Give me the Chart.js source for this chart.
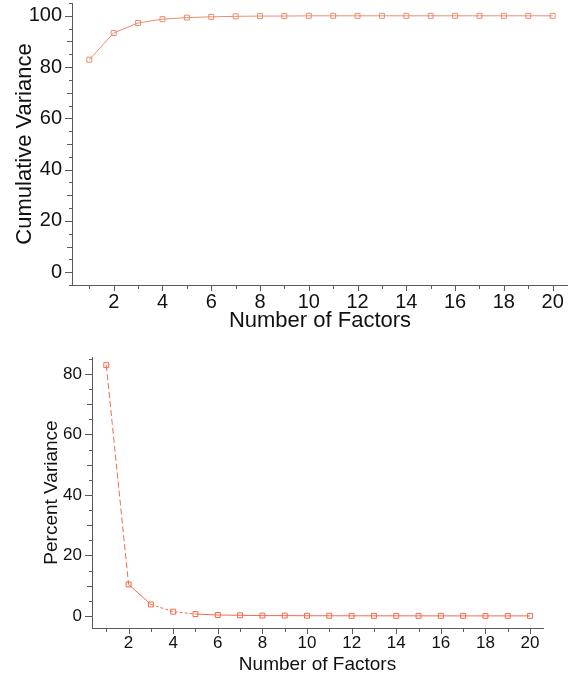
<!DOCTYPE html>
<html>
<head>
<meta charset="utf-8">
<script src="https://cdn.jsdelivr.net/npm/chart.js@4/dist/chart.umd.min.js"></script>
<style>
  body { margin: 0; background: #fff; }
  .box { position: absolute; left: 0; width: 568px; }
  #top { top: 0; height: 335px; }
  #bottom { top: 340px; height: 337px; }
</style>
</head>
<body>
<div class="box" id="top"><canvas id="cumChart"></canvas></div>
<div class="box" id="bottom"><canvas id="pctChart"></canvas></div>
<script>
const factors = [1, 2, 3, 4, 5, 6, 7, 8, 9, 10, 11, 12, 13, 14, 15, 16, 17, 18, 19, 20];
const cumulativeVariance = [82.9, 93.3, 97.2, 98.7, 99.3, 99.6, 99.8, 99.9, 99.9, 100, 100, 100, 100, 100, 100, 100, 100, 100, 100, 100];
const percentVariance = [82.9, 10.4, 3.8, 1.4, 0.6, 0.3, 0.2, 0.1, 0.1, 0.05, 0.05, 0.03, 0.02, 0.02, 0.01, 0.01, 0, 0, 0, 0];
const xTickLabels = [2, 4, 6, 8, 10, 12, 14, 16, 18, 20];
const cumTickLabels = [0, 20, 40, 60, 80, 100];
const pctTickLabels = [0, 20, 40, 60, 80];

const FONT = 'Liberation Sans, Arial, sans-serif';
const AXIS = '#5a5a5a';

// minor/major tick marks drawn outside the axes
const tickMarks = {
  id: 'tickMarks',
  afterDraw(chart) {
    const ctx = chart.ctx;
    const xs = chart.scales.x, ys = chart.scales.y;
    ctx.save();
    ctx.strokeStyle = AXIS;
    ctx.lineWidth = 1;
    ctx.beginPath();
    for (let v = Math.ceil(ys.min / 5) * 5; v <= ys.max; v += 5) {
      const y = Math.round(ys.getPixelForValue(v)) + 0.5;
      const len = v % 20 === 0 ? 7 : (v % 10 === 0 ? 5 : 3);
      ctx.moveTo(ys.right - len, y);
      ctx.lineTo(ys.right, y);
    }
    for (let v = Math.ceil(xs.min); v <= xs.max; v++) {
      const x = Math.round(xs.getPixelForValue(v)) + 0.5;
      const len = v % 2 === 0 ? 6 : 4;
      ctx.moveTo(x, xs.top);
      ctx.lineTo(x, xs.top + len);
    }
    ctx.stroke();
    ctx.restore();
  }
};

function noPad(s) {
  s.paddingTop = 0; s.paddingBottom = 0; s.paddingLeft = 0; s.paddingRight = 0;
}

function makeChart(id, values, yTicks, opt) {
  const points = factors.map((f, i) => ({ x: f, y: values[i] }));
  return new Chart(document.getElementById(id), {
    type: 'line',
    data: {
      datasets: [{
        data: points,
        borderColor: opt.color,
        backgroundColor: '#fff',
        borderWidth: 1,
        pointStyle: 'rect',
        pointRadius: 3.5,
        pointBorderWidth: 1,
        pointBorderColor: opt.color,
        pointBackgroundColor: 'rgba(255,255,255,0)',
        tension: 0,
        segment: opt.segment || {}
      }]
    },
    options: {
      responsive: true,
      maintainAspectRatio: false,
      animation: false,
      layout: {
        autoPadding: false,
        padding: { top: opt.padTop, right: opt.padRight, left: 0, bottom: 0 }
      },
      plugins: { legend: { display: false }, tooltip: { enabled: false } },
      scales: {
        x: {
          type: 'linear',
          min: opt.xMin,
          max: opt.xMax,
          afterBuildTicks: s => { s.ticks = xTickLabels.map(v => ({ value: v })); },
          afterFit: s => { s.height = opt.xHeight; noPad(s); },
          grid: { display: true, drawOnChartArea: false, drawTicks: false },
          border: { display: true, color: AXIS, width: 1 },
          ticks: {
            color: '#111',
            padding: opt.xPad,
            maxRotation: 0,
            autoSkip: false,
            font: { family: FONT, size: opt.tickSize }
          },
          title: {
            display: true,
            text: 'Number of Factors',
            color: '#111',
            font: { family: FONT, size: opt.titleSize },
            padding: { top: 0, bottom: opt.xTitlePad }
          }
        },
        y: {
          min: opt.yMin,
          max: opt.yMax,
          afterBuildTicks: s => { s.ticks = yTicks.map(v => ({ value: v })); },
          afterFit: s => { s.width = opt.yWidth; noPad(s); },
          grid: { display: true, drawOnChartArea: false, drawTicks: false },
          border: { display: true, color: AXIS, width: 1 },
          ticks: {
            color: '#111',
            padding: 10,
            autoSkip: false,
            font: { family: FONT, size: opt.tickSize }
          },
          title: {
            display: true,
            text: opt.yTitle,
            color: '#111',
            font: { family: FONT, size: opt.titleSize },
            padding: { top: opt.yTitlePad, bottom: 0 }
          }
        }
      }
    },
    plugins: [tickMarks]
  });
}

makeChart('cumChart', cumulativeVariance, cumTickLabels, {
  color: '#e98d6e',
  xMin: 0.29, xMax: 20.63,
  yMin: -5, yMax: 105,
  padTop: 3, padRight: 0,
  yWidth: 72, xHeight: 50,
  tickSize: 20, titleSize: 22,
  xPad: 5, xTitlePad: 1, yTitlePad: 12,
  yTitle: 'Cumulative Variance'
});

makeChart('pctChart', percentVariance, pctTickLabels, {
  color: '#f26b4b',
  xMin: 0.36, xMax: 20.58,
  yMin: -4, yMax: 85.6,
  padTop: 17, padRight: 25,
  yWidth: 92, xHeight: 49,
  tickSize: 17, titleSize: 19,
  xPad: 5, xTitlePad: 1, yTitlePad: 40,
  yTitle: 'Percent Variance',
  segment: {
    borderDash: c => {
      const i = c.p0DataIndex;
      if (i === 0) return [6, 3];
      if (i === 2 || i === 3) return [3, 2];
      return undefined;
    }
  }
});
</script>
</body>
</html>
